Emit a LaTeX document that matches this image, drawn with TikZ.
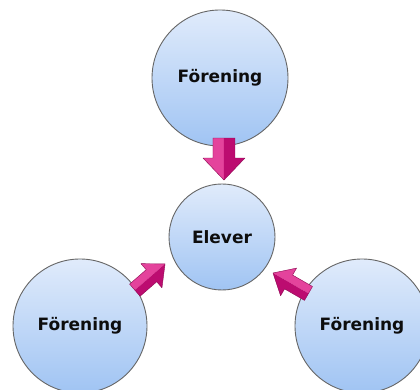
\documentclass[tikz,border=0pt]{standalone}
\usepackage{fontspec}
\setmainfont{DejaVu Sans}
\usetikzlibrary{calc}
\definecolor{circtop}{HTML}{E0EBFB}
\definecolor{circbot}{HTML}{A0C4F3}
\definecolor{circline}{HTML}{666666}
\definecolor{arrlight}{HTML}{E4439C}
\definecolor{arrdark}{HTML}{BC0C70}
\definecolor{arredge}{HTML}{8E0752}
\tikzset{
  bubble/.style={circle, draw=circline, line width=0.9, top color=circtop,
    bottom color=circbot, font=\fontsize{17}{20}\selectfont\bfseries,
    text=black!95, inner sep=0},
}
% #1 tip, #2 angle, #3 length, #4 head length, #5 shaft half width, #6 head half width, #7 light side sign
\newcommand{\blockarr}[7]{%
  \begin{scope}[shift={(#1)}, rotate=#2]
    \fill[arrlight] (0,0) -- (-#4,#7*#6) -- (-#4,#7*#5) -- (-#3,#7*#5) -- (-#3,0) -- cycle;
    \fill[arrdark] (0,0) -- (-#4,-#7*#6) -- (-#4,-#7*#5) -- (-#3,-#7*#5) -- (-#3,0) -- cycle;
    \draw[arredge, line width=0.4, line join=round]
      (0,0) -- (-#4,#6) -- (-#4,#5) -- (-#3,#5) -- (-#3,-#5) -- (-#4,-#5) -- (-#4,-#6) -- cycle;
  \end{scope}}
\begin{document}
\begin{tikzpicture}[x=1pt, y=1pt]
  \useasboundingbox (0,0) rectangle (420,390);
  \fill[white] (0,0) rectangle (420,390);
  \node[bubble, minimum size=136] (top) at (220,312) {Förening};
  \node[bubble, minimum size=106] (mid) at (222,153) {Elever};
  \node[bubble, minimum size=134] (bl) at (80,64) {Förening};
  \node[bubble, minimum size=134] (br) at (362,64) {Förening};
  \coordinate (tA) at ($(mid.center)+(88:57)$);
  \coordinate (tB) at ($(mid.center)+(205.3:63)$);
  \coordinate (tC) at ($(mid.center)+(324.8:62.4)$);
  \blockarr{tA}{-90}{42}{22}{11}{21}{-1}
  \blockarr{tB}{41}{40}{18}{8}{16}{1}
  \blockarr{tC}{150}{41}{18}{8}{16}{-1}
\end{tikzpicture}
\end{document}
